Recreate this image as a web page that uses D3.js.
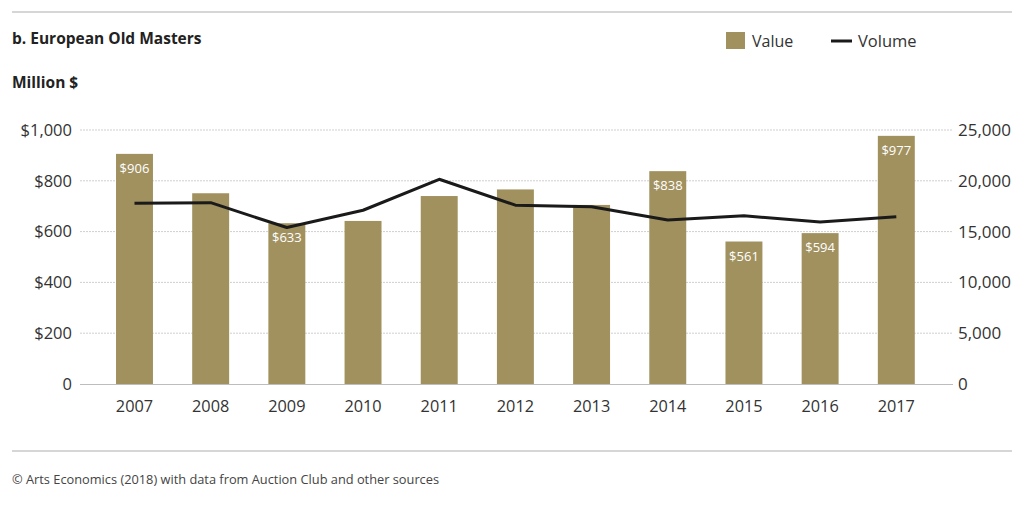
<!DOCTYPE html>
<html><head><meta charset="utf-8">
<script src="https://cdn.jsdelivr.net/npm/d3@7"></script>
<style>
html,body{margin:0;padding:0;background:#fff;}
svg{display:block;font-family:"Open Sans","Noto Sans",sans-serif;}
</style></head>
<body>
<svg id="c" width="1012" height="509"></svg>
<script>
const years = ["2007","2008","2009","2010","2011","2012","2013","2014","2015","2016","2017"];
const values = [906, 751, 633, 642, 740, 766, 705, 838, 561, 594, 977];
const volumes = [17800, 17850, 15400, 17100, 20150, 17600, 17450, 16150, 16550, 15950, 16450];
const labelled = {"2007":"$906","2009":"$633","2014":"$838","2015":"$561","2016":"$594","2017":"$977"};
const leftTicks = [0, 200, 400, 600, 800, 1000];
const rightTicks = [0, 5000, 10000, 15000, 20000, 25000];

const svg = d3.select("#c");
const barColor = "#a1915f";
const x = d3.scaleBand().domain(years).range([96.4, 934.4]).paddingInner(0.515).paddingOuter(0.2575);
const yL = d3.scaleLinear().domain([0, 1000]).range([384, 130]);
const yR = d3.scaleLinear().domain([0, 25000]).range([384, 130]);

// rules
svg.append("line").attr("x1",12).attr("x2",1012).attr("y1",12).attr("y2",12).attr("stroke","#c8c8c8").attr("stroke-width",1.5);
svg.append("line").attr("x1",12).attr("x2",1012).attr("y1",451).attr("y2",451).attr("stroke","#c8c8c8").attr("stroke-width",1.5);

svg.append("text").attr("x",12).attr("y",44).attr("font-size",15.5).attr("font-weight","bold").attr("fill","#222").text("b. European Old Masters");
svg.append("text").attr("x",12).attr("y",88).attr("font-size",15.5).attr("font-weight","bold").attr("fill","#222").text("Million $");
svg.append("text").attr("x",12).attr("y",484).attr("font-size",12.8).attr("fill","#444").text("© Arts Economics (2018) with data from Auction Club and other sources");

// grid
svg.append("g").selectAll("line").data(leftTicks.filter(d=>d>0)).join("line")
  .attr("x1",80).attr("x2",953).attr("y1",d=>yL(d)).attr("y2",d=>yL(d))
  .attr("stroke","#cfcfcf").attr("stroke-width",1).attr("stroke-dasharray","2,1");

// left axis
const gL = svg.append("g").attr("transform","translate(80,0)")
  .call(d3.axisLeft(yL).tickValues(leftTicks).tickSize(0).tickPadding(8).tickFormat(d=>d===0?"0":"$"+d3.format(",")(d)));
gL.select(".domain").remove();
gL.selectAll("text").attr("font-size",16.5).attr("fill","#333").attr("font-family","Open Sans");

// right axis
const gR = svg.append("g").attr("transform","translate(953,0)")
  .call(d3.axisRight(yR).tickValues(rightTicks).tickSize(0).tickPadding(5).tickFormat(d3.format(",")));
gR.select(".domain").remove();
gR.selectAll("text").attr("font-size",17).attr("fill","#333").attr("font-family","Open Sans");

// bars
svg.append("g").selectAll("rect").data(years).join("rect")
  .attr("x",d=>x(d)).attr("width",x.bandwidth())
  .attr("y",(d,i)=>yL(values[i])).attr("height",(d,i)=>yL(0)-yL(values[i]))
  .attr("fill",barColor);

// baseline
svg.append("line").attr("x1",80).attr("x2",953).attr("y1",384.5).attr("y2",384.5).attr("stroke","#bdbdbd").attr("stroke-width",1.2);

// bottom axis
const gB = svg.append("g").attr("transform","translate(0,384)")
  .call(d3.axisBottom(x).tickSize(0).tickPadding(16));
gB.select(".domain").remove();
gB.selectAll("text").attr("font-size",16.3).attr("fill","#333").attr("font-family","Open Sans");

// line
const line = d3.line().x((d,i)=>x(years[i])+x.bandwidth()/2).y(d=>yR(d)).curve(d3.curveLinear);
svg.append("path").datum(volumes).attr("d",line).attr("fill","none").attr("stroke","#1a1a1a").attr("stroke-width",3).attr("stroke-linejoin","round");

// value labels
svg.append("g").selectAll("text").data(years.filter(y=>labelled[y])).join("text")
  .attr("x",d=>x(d)+x.bandwidth()/2).attr("y",d=>yL(values[years.indexOf(d)])+19)
  .attr("text-anchor","middle").attr("font-size",13).attr("fill","#fff").text(d=>labelled[d]);

// legend
svg.append("rect").attr("x",726).attr("y",32).attr("width",19).attr("height",17).attr("fill",barColor);
svg.append("text").attr("x",752).attr("y",47).attr("font-size",16).attr("fill","#333").text("Value");
svg.append("line").attr("x1",831).attr("x2",852).attr("y1",41).attr("y2",41).attr("stroke","#1a1a1a").attr("stroke-width",3);
svg.append("text").attr("x",858).attr("y",47).attr("font-size",16.5).attr("fill","#333").text("Volume");
</script>
</body></html>
